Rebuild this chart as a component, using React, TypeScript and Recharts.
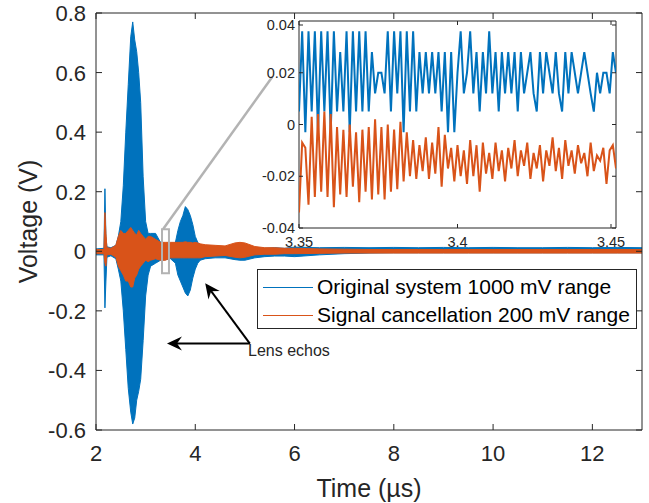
import React from 'react';
import {
  ComposedChart,
  Area,
  Line,
  XAxis,
  YAxis,
  ReferenceArea,
  ReferenceLine,
  Label,
} from 'recharts';

const BLUE = '#0072BD';
const ORANGE = '#D95319';
const AXIS = '#262626';
const GREY = '#b3b3b3';
const FONT = 'Arial, "Liberation Sans", Helvetica, sans-serif';

// main plot box (page px)
const MAIN_TOP = 13;
const MAIN_RIGHT = 642;
// inset plot box (inside its own svg)
const INSET_TOP = 5;
const INSET_RIGHT = 361;

const mainTimes = [
  2.0, 2.16, 2.18, 2.2, 2.22, 2.3, 2.4, 2.45, 2.5, 2.55, 2.6, 2.65, 2.7, 2.74, 2.78, 2.82, 2.86, 2.9, 2.95,
  3.0, 3.05, 3.1, 3.2, 3.3, 3.4, 3.5, 3.6, 3.65, 3.7, 3.75, 3.8, 3.85, 3.9, 3.95, 4.0, 4.05, 4.1, 4.2,
  4.4, 4.6, 4.8, 4.9, 5.0, 5.2, 5.4, 5.6, 5.8, 6.0, 6.5, 7.0, 7.5, 8.0, 8.5, 9.0, 9.5, 10.0, 10.5, 11.0,
  11.5, 12.0, 12.5, 13.0,
];
const blueHi = [
  0.008, 0.01, 0.21, 0.05, 0.015, 0.012, 0.02, 0.05, 0.1, 0.22, 0.4, 0.56, 0.72, 0.77, 0.71, 0.67, 0.6, 0.5, 0.25,
  0.1, 0.06, 0.06, 0.06, 0.03, 0.02, 0.015, 0.03, 0.07, 0.1, 0.12, 0.15, 0.14, 0.12, 0.09, 0.05, 0.03, 0.02, 0.015,
  0.012, 0.012, 0.015, 0.015, 0.015, 0.012, 0.01, 0.012, 0.01, 0.014, 0.012, 0.013, 0.012, 0.013, 0.012, 0.013,
  0.012, 0.013, 0.012, 0.012, 0.013, 0.012, 0.013, 0.012,
];
const blueLo = [
  -0.012, -0.012, -0.19, -0.1, -0.02, -0.015, -0.025, -0.06, -0.1, -0.2, -0.33, -0.46, -0.54, -0.58, -0.56, -0.5,
  -0.47, -0.43, -0.3, -0.15, -0.08, -0.05, -0.04, -0.03, -0.028, -0.025, -0.04, -0.08, -0.1, -0.12, -0.14, -0.15,
  -0.13, -0.09, -0.06, -0.04, -0.03, -0.025, -0.022, -0.022, -0.028, -0.03, -0.03, -0.022, -0.018, -0.016, -0.016,
  -0.018, -0.012, -0.008, -0.006, -0.005, -0.005, -0.005, -0.005, -0.005, -0.005, -0.005, -0.005, -0.005, -0.005,
  -0.005,
];
const orangeHi = [
  0.006, 0.006, 0.13, 0.06, 0.012, 0.01, 0.02, 0.05, 0.07, 0.06, 0.06, 0.07, 0.08, 0.07, 0.06, 0.055, 0.07, 0.06,
  0.05, 0.04, 0.05, 0.05, 0.04, 0.03, 0.03, 0.03, 0.03, 0.03, 0.03, 0.03, 0.032, 0.03, 0.03, 0.028, 0.03, 0.028,
  0.025, 0.022, 0.02, 0.018, 0.028, 0.03, 0.028, 0.016, 0.012, 0.012, 0.01, 0.01, 0.008, 0.007, 0.006, 0.006,
  0.006, 0.006, 0.006, 0.006, 0.006, 0.006, 0.006, 0.006, 0.006, 0.006,
];
const orangeLo = [
  -0.008, -0.008, -0.04, -0.05, -0.012, -0.01, -0.02, -0.05, -0.065, -0.08, -0.1, -0.1, -0.12, -0.12, -0.09, -0.08,
  -0.06, -0.05, -0.04, -0.03, -0.035, -0.03, -0.025, -0.03, -0.03, -0.022, -0.022, -0.022, -0.022, -0.022, -0.022,
  -0.022, -0.022, -0.022, -0.022, -0.022, -0.022, -0.018, -0.016, -0.014, -0.02, -0.022, -0.02, -0.012, -0.01,
  -0.01, -0.008, -0.008, -0.007, -0.006, -0.006, -0.006, -0.006, -0.006, -0.006, -0.006, -0.006, -0.006, -0.006,
  -0.006, -0.006, -0.006,
];

const mainXTicks = [2, 4, 6, 8, 10, 12];
const mainYTicks = [-0.6, -0.4, -0.2, 0, 0.2, 0.4, 0.6, 0.8];

// ---- inset: 3.35 .. 3.45 us, one sample per ns ----
const insetStart = 3.35;
const insetStep = 0.001;
const insetBlue = [
  0.005, 0.036, -0.003, 0.036, 0.005, 0.036, -0.003, 0.036, 0.005, 0.036, -0.003, 0.036, 0.005, 0.028, 0.005,
  0.036, -0.003, 0.036, 0.005, 0.036, 0.005, 0.036, 0.005, 0.028, 0.012, 0.02, 0.02, 0.012, 0.036, 0.005, 0.036,
  0.012, 0.036, -0.003, 0.036, 0.005, 0.036, 0.005, 0.028, 0.012, 0.028, 0.012, 0.028, 0.012, 0.028, 0.005, 0.028,
  -0.003, 0.028, -0.003, 0.02, 0.036, 0.012, 0.02, 0.036, 0.012, 0.028, 0.005, 0.028, 0.012, 0.036, 0.012, 0.028,
  0.005, 0.028, 0.012, 0.028, 0.012, 0.028, 0.005, 0.028, 0.012, 0.02, 0.028, 0.012, 0.005, 0.028, 0.012, 0.028,
  0.02, 0.012, 0.028, 0.012, 0.005, 0.028, 0.012, 0.028, 0.02, 0.012, 0.02, 0.028, 0.02, 0.012, 0.005, 0.02, 0.012,
  0.02, 0.02, 0.012, 0.028, 0.02,
];
const insetOrange = [
  -0.034, -0.007, -0.009, -0.031, 0.003, -0.028, 0.004, -0.026, 0.005, -0.028, 0.004, -0.032, -0.001, -0.027,
  -0.002, -0.028, 0.0, -0.024, -0.003, -0.03, -0.002, -0.026, -0.001, -0.029, 0.002, -0.027, -0.001, -0.029, 0.0,
  -0.026, -0.002, -0.025, 0.001, -0.022, -0.003, -0.02, -0.006, -0.021, -0.008, -0.018, -0.005, -0.021, -0.007,
  -0.019, -0.001, -0.024, -0.004, -0.017, -0.009, -0.022, -0.008, -0.02, -0.01, -0.023, -0.006, -0.02, -0.008,
  -0.026, -0.007, -0.019, -0.011, -0.021, -0.007, -0.018, -0.01, -0.022, -0.009, -0.017, -0.006, -0.02, -0.01,
  -0.016, -0.007, -0.021, -0.011, -0.017, -0.008, -0.022, -0.01, -0.016, -0.005, -0.018, -0.009, -0.021, -0.006,
  -0.016, -0.01, -0.019, -0.008, -0.015, -0.011, -0.02, -0.007, -0.018, -0.012, -0.014, -0.009, -0.023, -0.01,
  -0.008, -0.017,
];
const insetXTicks = [3.35, 3.4, 3.45];
const insetYTicks = [-0.04, -0.02, 0, 0.02, 0.04];

const mainData = mainTimes.map((t, i) => ({
  t,
  blue: [blueLo[i], blueHi[i]],
  orange: [orangeLo[i], orangeHi[i]],
}));

const insetData = insetBlue.map((b, i) => ({
  t: Number((insetStart + i * insetStep).toFixed(3)),
  blue: b,
  orange: insetOrange[i],
}));

const fmt = (v: number, d: number) => Number(v.toFixed(d)).toString();

const MainXTick = (p: any) => {
  const { x, y, payload } = p;
  return (
    <g>
      <line x1={x} x2={x} y1={y} y2={y - 6} stroke={AXIS} />
      <line x1={x} x2={x} y1={MAIN_TOP} y2={MAIN_TOP + 6} stroke={AXIS} />
      <text x={x} y={y + 31} textAnchor="middle" fontSize={22} fill={AXIS} fontFamily={FONT}>
        {fmt(payload.value, 1)}
      </text>
    </g>
  );
};

const MainYTick = (p: any) => {
  const { x, y, payload } = p;
  return (
    <g>
      <line x1={x} x2={x + 6} y1={y} y2={y} stroke={AXIS} />
      <line x1={MAIN_RIGHT} x2={MAIN_RIGHT - 6} y1={y} y2={y} stroke={AXIS} />
      <text x={x - 10} y={y} dy={8} textAnchor="end" fontSize={22} fill={AXIS} fontFamily={FONT}>
        {fmt(payload.value, 1)}
      </text>
    </g>
  );
};

const InsetXTick = (p: any) => {
  const { x, y, payload } = p;
  return (
    <g>
      <line x1={x} x2={x} y1={y} y2={y - 4} stroke={AXIS} />
      <line x1={x} x2={x} y1={INSET_TOP} y2={INSET_TOP + 4} stroke={AXIS} />
      <text x={x} y={y + 19} textAnchor="middle" fontSize={14.5} fill={AXIS} fontFamily={FONT}>
        {fmt(payload.value, 2)}
      </text>
    </g>
  );
};

const InsetYTick = (p: any) => {
  const { x, y, payload } = p;
  return (
    <g>
      <line x1={x} x2={x + 4} y1={y} y2={y} stroke={AXIS} />
      <line x1={INSET_RIGHT} x2={INSET_RIGHT - 4} y1={y} y2={y} stroke={AXIS} />
      <text x={x - 4} y={y} dy={5} textAnchor="end" fontSize={14.5} fill={AXIS} fontFamily={FONT}>
        {fmt(payload.value, 2)}
      </text>
    </g>
  );
};

// black annotation arrow with a swept-back head
const Arrow = (p: any) => {
  const { x1, y1, x2, y2 } = p;
  const dx = x2 - x1;
  const dy = y2 - y1;
  const len = Math.hypot(dx, dy) || 1;
  const ux = dx / len;
  const uy = dy / len;
  const nx = -uy;
  const ny = ux;
  const L = 15;
  const W = 7;
  const N = 10;
  const bx = x2 - ux * L;
  const by = y2 - uy * L;
  const pts = `${x2},${y2} ${bx + nx * W},${by + ny * W} ${x2 - ux * N},${y2 - uy * N} ${bx - nx * W},${by - ny * W}`;
  return (
    <g>
      <line x1={x1} y1={y1} x2={x2 - ux * N} y2={y2 - uy * N} stroke="#000" strokeWidth={2} />
      <polygon points={pts} fill="#000" />
    </g>
  );
};

const legendItems = [
  { name: 'Original system 1000 mV range', color: BLUE },
  { name: 'Signal cancellation 200 mV range', color: ORANGE },
];

export default function App() {
  return (
    <div style={{ position: 'absolute', left: 0, top: 0, width: 649, height: 503, background: '#fff', fontFamily: FONT }}>
      <ComposedChart width={649} height={503} data={mainData} margin={{ top: MAIN_TOP, right: 649 - MAIN_RIGHT, bottom: 0, left: 0 }}>
        <XAxis
          dataKey="t"
          type="number"
          domain={[2, 13]}
          ticks={mainXTicks}
          allowDataOverflow
          height={73}
          tickSize={0}
          tickMargin={0}
          axisLine={false}
          tick={<MainXTick />}
        >
          <Label value="Time (µs)" position="insideBottom" offset={6} fontSize={25} fill={AXIS} fontFamily={FONT} />
        </XAxis>
        <YAxis
          type="number"
          domain={[-0.6, 0.8]}
          ticks={mainYTicks}
          allowDataOverflow
          width={96}
          tickSize={0}
          tickMargin={0}
          axisLine={false}
          tick={<MainYTick />}
        >
          <Label
            value="Voltage (V)"
            angle={-90}
            position="insideLeft"
            offset={28}
            fontSize={25}
            fill={AXIS}
            fontFamily={FONT}
            style={{ textAnchor: 'middle' }}
          />
        </YAxis>
        <Area dataKey="blue" type="linear" stroke={BLUE} strokeWidth={1} fill={BLUE} fillOpacity={1} isAnimationActive={false} dot={false} activeDot={false} />
        <Area dataKey="orange" type="linear" stroke={ORANGE} strokeWidth={1} fill={ORANGE} fillOpacity={1} isAnimationActive={false} dot={false} activeDot={false} />
        <ReferenceArea x1={3.33} x2={3.47} y1={-0.074} y2={0.074} fill="none" stroke={GREY} strokeWidth={2} />
        <ReferenceLine segment={[{ x: 3.35, y: 0.074 }, { x: 5.55, y: 0.585 }]} stroke={GREY} strokeWidth={2.5} />
        <ReferenceLine segment={[{ x: 5.1, y: -0.31 }, { x: 3.43, y: -0.31 }]} shape={<Arrow />} />
        <ReferenceLine segment={[{ x: 5.1, y: -0.31 }, { x: 4.2, y: -0.107 }]} shape={<Arrow />} />
        <ReferenceArea x1={2} x2={13} y1={-0.6} y2={0.8} fill="none" stroke={AXIS} strokeWidth={1} />
      </ComposedChart>

      <div style={{ position: 'absolute', left: 248, top: 342, fontSize: 16, color: AXIS, whiteSpace: 'nowrap' }}>Lens echos</div>

      {/* legend */}
      <div
        style={{
          position: 'absolute',
          left: 257,
          top: 269,
          width: 380,
          height: 60,
          boxSizing: 'border-box',
          border: `1px solid ${AXIS}`,
          background: '#fff',
        }}
      >
        {legendItems.map((it, i) => (
          <div key={it.name} style={{ position: 'absolute', left: 5, top: 4 + i * 28, height: 26, display: 'flex', alignItems: 'center', whiteSpace: 'nowrap' }}>
            <div style={{ width: 50, height: 0, borderTop: `1.5px solid ${it.color}`, marginRight: 4 }} />
            <span style={{ fontSize: 21, color: '#000' }}>{it.name}</span>
          </div>
        ))}
      </div>

      {/* inset */}
      <div style={{ position: 'absolute', left: 299, top: 21, width: 317, height: 207, background: '#fff' }} />
      <div style={{ position: 'absolute', left: 255, top: 16 }}>
        <ComposedChart width={370} height={240} data={insetData} margin={{ top: INSET_TOP, right: 370 - INSET_RIGHT, bottom: 0, left: 0 }}>
          <XAxis
            dataKey="t"
            type="number"
            domain={[3.35, 3.45]}
            ticks={insetXTicks}
            allowDataOverflow
            height={28}
            tickSize={0}
            tickMargin={0}
            axisLine={false}
            tick={<InsetXTick />}
          />
          <YAxis
            type="number"
            domain={[-0.04, 0.04]}
            ticks={insetYTicks}
            allowDataOverflow
            width={44}
            tickSize={0}
            tickMargin={0}
            axisLine={false}
            tick={<InsetYTick />}
          />
          <Line dataKey="blue" type="linear" stroke={BLUE} strokeWidth={2} dot={false} activeDot={false} isAnimationActive={false} />
          <Line dataKey="orange" type="linear" stroke={ORANGE} strokeWidth={2} dot={false} activeDot={false} isAnimationActive={false} />
          <ReferenceArea x1={3.35} x2={3.45} y1={-0.04} y2={0.04} fill="none" stroke={AXIS} strokeWidth={1} />
        </ComposedChart>
      </div>
    </div>
  );
}
